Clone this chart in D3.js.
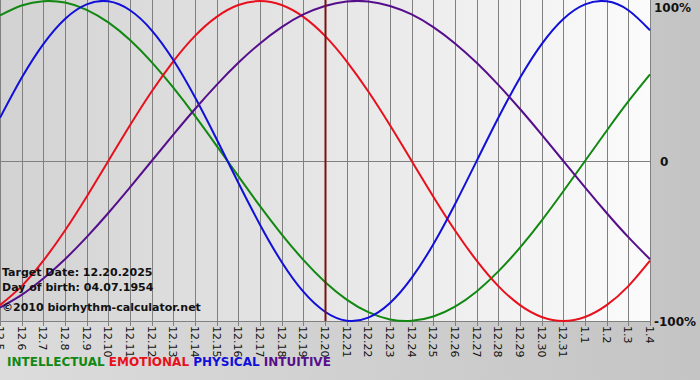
<!DOCTYPE html>
<html>
<head>
<meta charset="utf-8">
<script src="https://cdn.jsdelivr.net/npm/d3@7"></script>
<style>
  body { margin: 0; background: #c8c8c8; }
  svg { display: block; }
</style>
</head>
<body>
<div class="bio"></div>
<script>
// days shown on the x axis (month.day)
const days = ['12.5','12.6','12.7','12.8','12.9','12.10','12.11','12.12','12.13','12.14','12.15','12.16',
  '12.17','12.18','12.19','12.20','12.21','12.22','12.23','12.24','12.25','12.26','12.27','12.28','12.29',
  '12.30','12.31','1.1','1.2','1.3','1.4'];

// curve values read per day, -1 .. 1
const physical = [0.27,0.52,0.731,0.888,0.979,0.998,0.942,0.817,0.631,0.398,0.136,-0.136,-0.398,-0.631,
  -0.817,-0.942,-0.998,-0.979,-0.888,-0.731,-0.52,-0.27,0,0.27,0.52,0.731,0.888,0.979,0.998,0.942,0.817];
const emotional = [-0.901,-0.782,-0.623,-0.434,-0.223,0,0.223,0.434,0.623,0.782,0.901,0.975,1,0.975,
  0.901,0.782,0.623,0.434,0.223,0,-0.223,-0.434,-0.623,-0.782,-0.901,-0.975,-1,-0.975,-0.901,-0.782,-0.623];
const intellectual = [0.91,0.972,0.999,0.99,0.945,0.866,0.756,0.618,0.458,0.282,0.095,-0.095,-0.282,
  -0.458,-0.618,-0.756,-0.866,-0.945,-0.99,-0.999,-0.972,-0.91,-0.815,-0.69,-0.541,-0.372,-0.189,0,0.189,0.372,0.541];
const intuitive = [-0.916,-0.837,-0.735,-0.614,-0.476,-0.325,-0.165,0,0.165,0.325,0.476,0.614,0.735,
  0.837,0.916,0.969,0.997,0.997,0.969,0.916,0.837,0.735,0.614,0.476,0.325,0.165,0,-0.165,-0.325,-0.476,-0.614];

const yTicks = [1, 0, -1];
const yLabels = ['100%', '0', '-100%'];
const targetDay = '12.20';
const infoLines = ['Target Date: 12.20.2025', 'Day of birth: 04.07.1954', '\u00a92010 biorhythm-calculator.net'];

const series = [
  { name: 'INTELLECTUAL', values: intellectual, color: '#118811' },
  { name: 'EMOTIONAL', values: emotional, color: '#e8101c' },
  { name: 'PHYSICAL', values: physical, color: '#1010d8' },
  { name: 'INTUITIVE', values: intuitive, color: '#560f8c' }
];

const width = 700, height = 380;
const plotW = 650, plotTop = 1, plotBottom = 321;
const font = 'Verdana, "DejaVu Sans", sans-serif';

const svg = d3.select('.bio').append('svg').attr('width', width).attr('height', height);
const defs = svg.append('defs');

const bgGrad = defs.append('linearGradient').attr('id', 'bgGrad');
bgGrad.append('stop').attr('offset', '0%').attr('stop-color', '#dcdcdc');
bgGrad.append('stop').attr('offset', '100%').attr('stop-color', '#c4c4c4');

const plotGrad = defs.append('linearGradient').attr('id', 'plotGrad');
plotGrad.append('stop').attr('offset', '0%').attr('stop-color', '#d2d2d2');
plotGrad.append('stop').attr('offset', '100%').attr('stop-color', '#fbfbfb');

svg.append('rect').attr('width', width).attr('height', height).attr('fill', 'url(#bgGrad)');

const xScale = d3.scalePoint().domain(days).range([0, plotW]);
const yScale = d3.scaleLinear().domain([-1, 1]).range([plotBottom, plotTop]);

svg.append('rect')
  .attr('x', 0).attr('y', 0)
  .attr('width', plotW).attr('height', plotBottom)
  .attr('fill', 'url(#plotGrad)');

// vertical grid + ticks
svg.append('g')
  .selectAll('line')
  .data(days)
  .join('line')
  .attr('x1', d => Math.round(xScale(d)) + 0.5)
  .attr('x2', d => Math.round(xScale(d)) + 0.5)
  .attr('y1', 0)
  .attr('y2', plotBottom + 5)
  .attr('stroke', '#808080')
  .attr('stroke-width', 1);

// horizontal lines at 0 and bottom
svg.append('g')
  .selectAll('line')
  .data([0, -1])
  .join('line')
  .attr('x1', 0).attr('x2', plotW + 1)
  .attr('y1', d => Math.round(yScale(d)) + 0.5)
  .attr('y2', d => Math.round(yScale(d)) + 0.5)
  .attr('stroke', '#808080');

// date labels, rotated
svg.append('g')
  .selectAll('text')
  .data(days)
  .join('text')
  .attr('transform', d => 'translate(' + (xScale(d) - 4) + ',' + (plotBottom + 5) + ') rotate(90)')
  .attr('font-family', font)
  .attr('font-size', '11px')
  .attr('fill', '#111')
  .text(d => d);

// right labels
svg.append('g')
  .selectAll('text')
  .data(yTicks)
  .join('text')
  .attr('x', (d, i) => i === 1 ? 660 : 654)
  .attr('y', d => yScale(d) + 5 + (d === 1 ? 6 : 0))
  .attr('font-family', font)
  .attr('font-size', '12px')
  .attr('font-weight', 'bold')
  .attr('fill', '#111')
  .text((d, i) => yLabels[i]);

const line = d3.line()
  .x((d, i) => xScale(days[i]))
  .y(d => yScale(d))
  .curve(d3.curveNatural);

svg.append('g')
  .selectAll('path')
  .data(series)
  .join('path')
  .attr('d', d => line(d.values))
  .attr('fill', 'none')
  .attr('stroke', d => d.color)
  .attr('stroke-width', 2);

// target day marker
svg.append('line')
  .attr('x1', xScale(targetDay) + 0.5).attr('x2', xScale(targetDay) + 0.5)
  .attr('y1', 0).attr('y2', plotBottom)
  .attr('stroke', '#7a1010')
  .attr('stroke-width', 2);

svg.append('g')
  .selectAll('text')
  .data(infoLines)
  .join('text')
  .attr('x', 2)
  .attr('y', (d, i) => [276, 291, 311][i])
  .attr('font-family', font)
  .attr('font-size', '11px')
  .attr('font-weight', 'bold')
  .attr('fill', '#111')
  .text(d => d);

// legend
const legend = svg.append('text')
  .attr('x', 7).attr('y', 366)
  .attr('font-family', font)
  .attr('font-size', '12px')
  .attr('font-weight', 'bold');
legend.selectAll('tspan')
  .data(series)
  .join('tspan')
  .attr('fill', d => d.color)
  .text((d, i) => (i ? ' ' : '') + d.name);
</script>
</body>
</html>
